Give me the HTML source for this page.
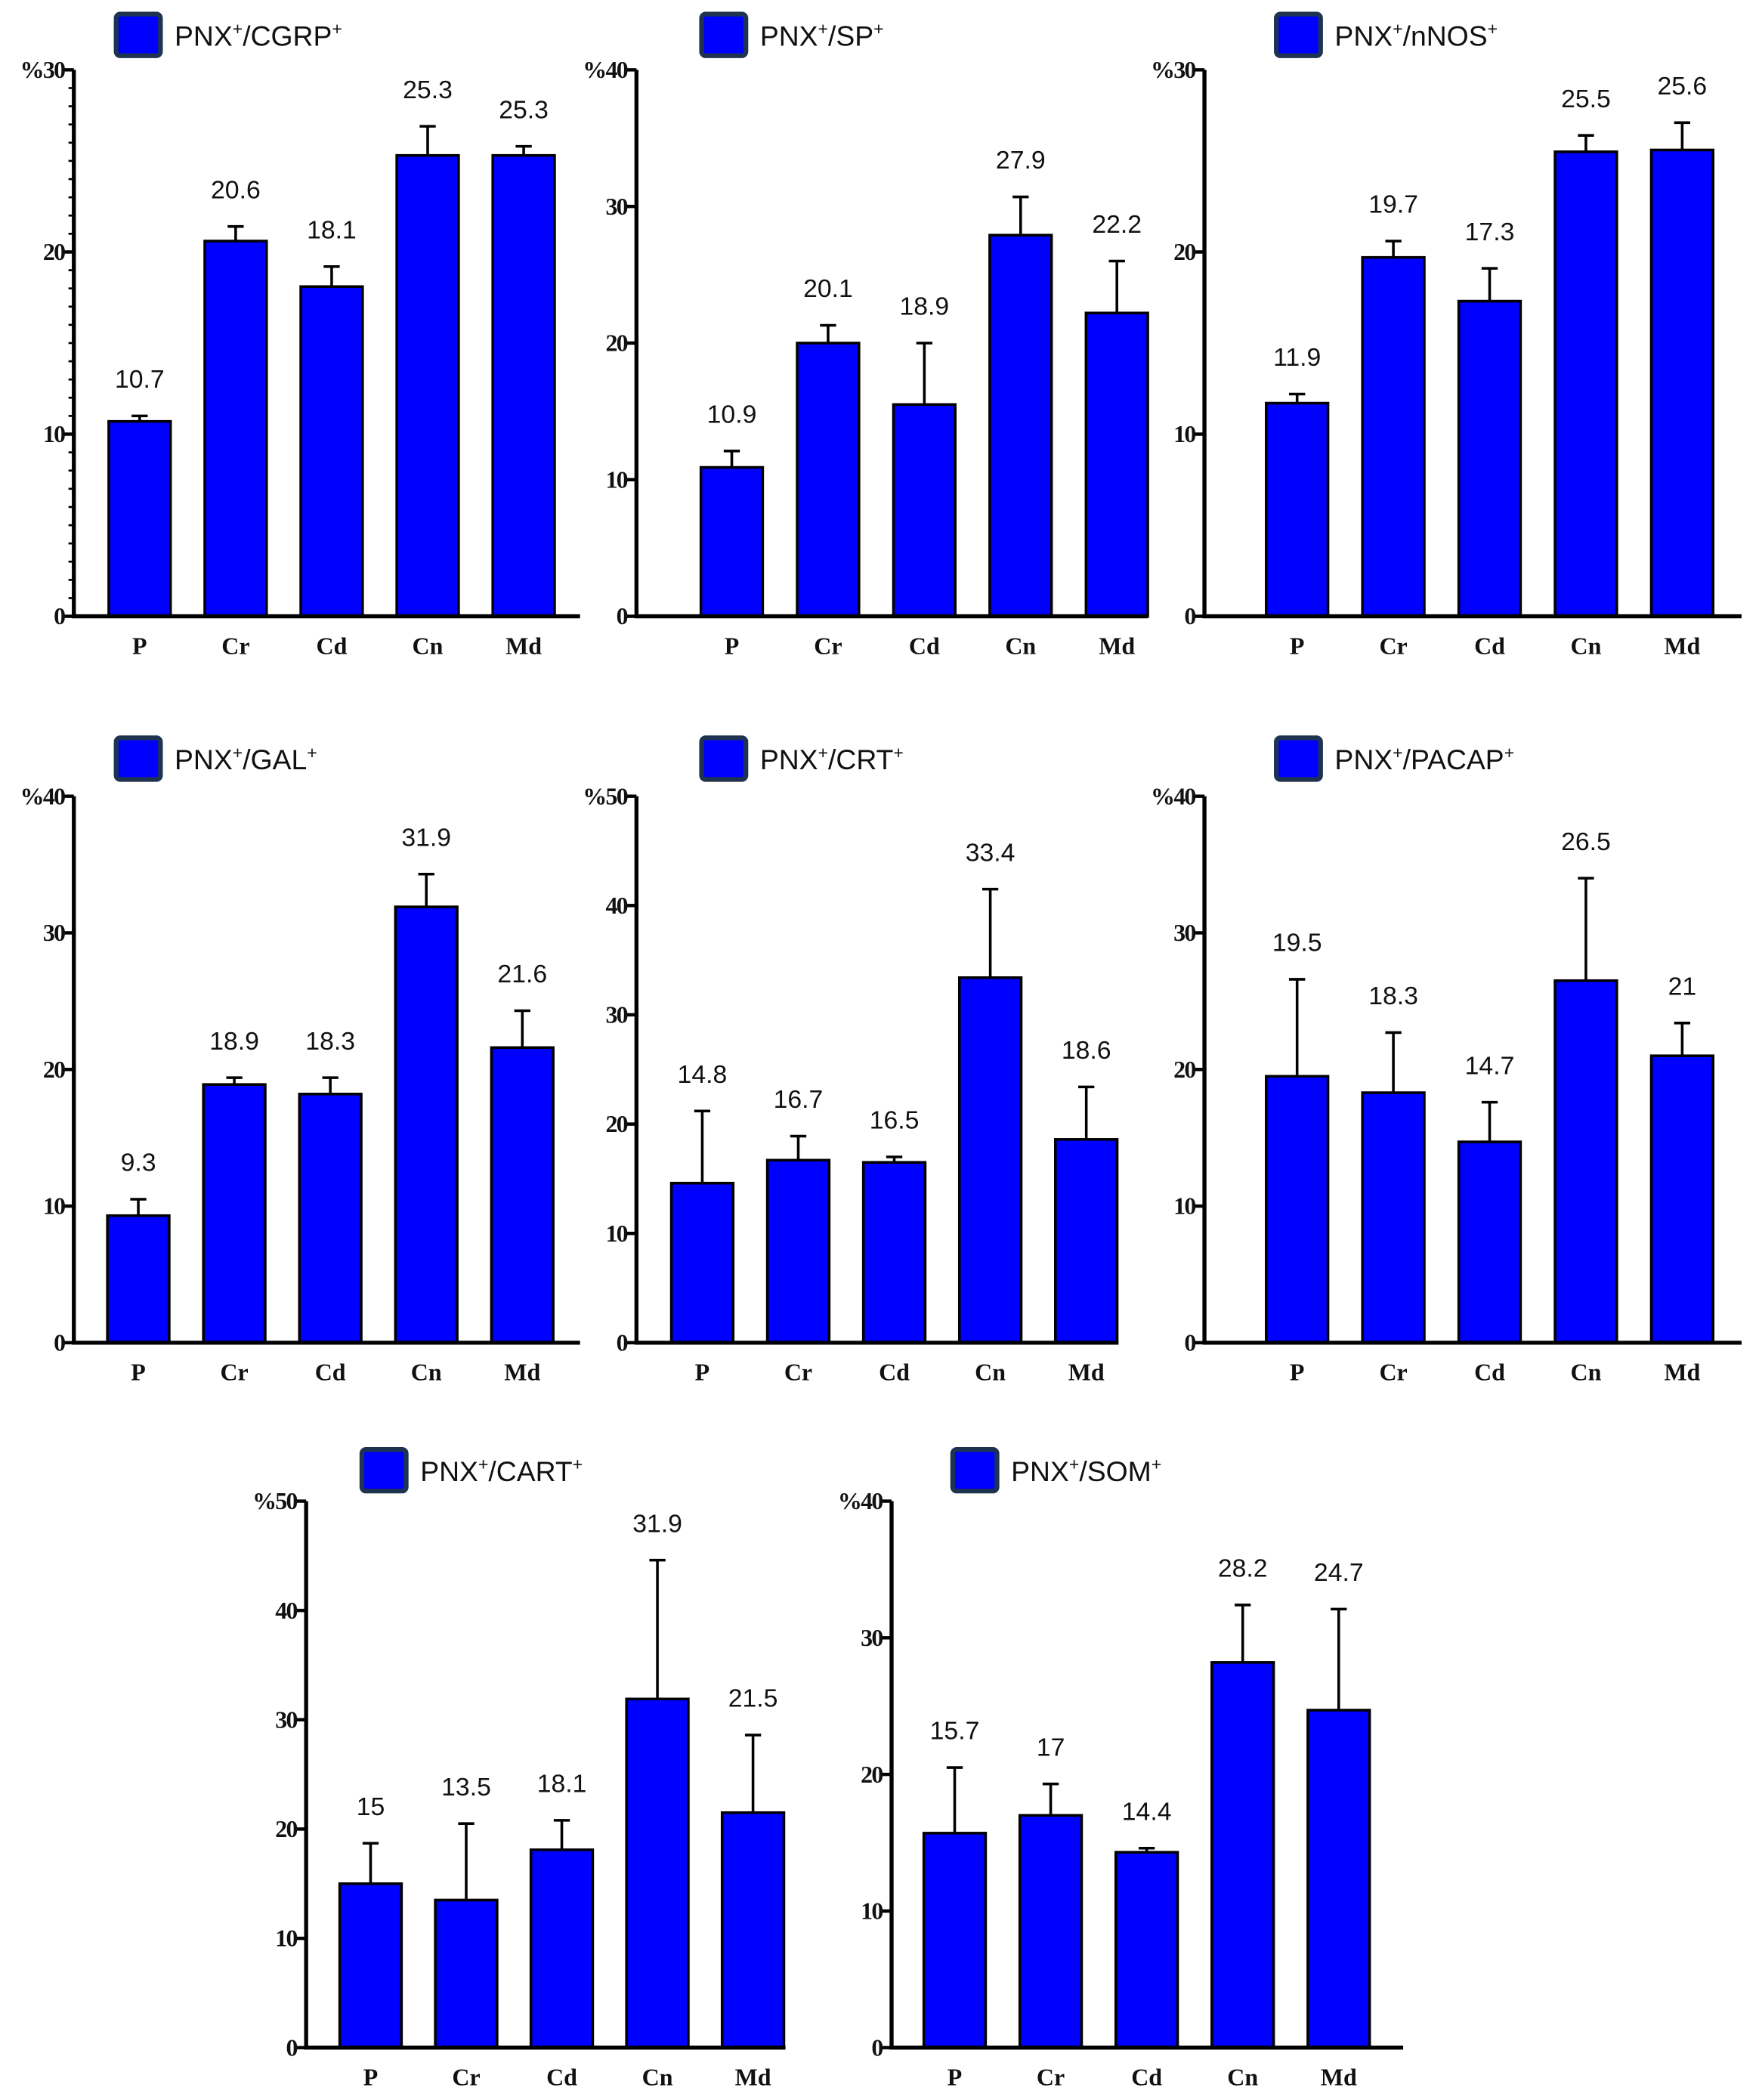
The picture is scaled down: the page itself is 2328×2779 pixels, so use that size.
<!DOCTYPE html>
<html><head><meta charset="utf-8"><style>
html,body{margin:0;padding:0;background:#fff;}
svg{display:block;}
.tk{font-family:"Liberation Serif",serif;font-weight:bold;font-size:18px;letter-spacing:-1px;}
.xl{font-family:"Liberation Serif",serif;font-weight:bold;font-size:18px;}
.vl{font-family:"Liberation Sans",sans-serif;font-size:19px;}
.lg{font-family:"Liberation Sans",sans-serif;font-size:21px;}
</style></head><body>
<svg id="fig" width="2328" height="2779" viewBox="0 0 1310 1564" preserveAspectRatio="none" xmlns="http://www.w3.org/2000/svg"></svg>
<script>
const categories = ["P","Cr","Cd","Cn","Md"];
const titles = ["CGRP","SP","nNOS","GAL","CRT","PACAP","CART","SOM"];
const yMaxes = [30,40,30,40,50,40,50,40];
const barValues = [
 [10.7,20.6,18.1,25.3,25.3],
 [10.9,20.0,15.5,27.9,22.2],
 [11.7,19.7,17.3,25.5,25.6],
 [9.3,18.9,18.2,31.9,21.6],
 [14.6,16.7,16.5,33.4,18.6],
 [19.5,18.3,14.7,26.5,21.0],
 [15.0,13.5,18.1,31.9,21.5],
 [15.7,17.0,14.3,28.2,24.7]
];
const errorTops = [
 [11.0,21.4,19.2,26.9,25.8],
 [12.1,21.3,20.0,30.7,26.0],
 [12.2,20.6,19.1,26.4,27.1],
 [10.5,19.4,19.4,34.3,24.3],
 [21.2,18.9,17.0,41.5,23.4],
 [26.6,22.7,17.6,34.0,23.4],
 [18.7,20.5,20.8,44.6,28.6],
 [20.5,19.3,14.6,32.4,32.1]
];
const valueLabels = [
 ["10.7","20.6","18.1","25.3","25.3"],
 ["10.9","20.1","18.9","27.9","22.2"],
 ["11.9","19.7","17.3","25.5","25.6"],
 ["9.3","18.9","18.3","31.9","21.6"],
 ["14.8","16.7","16.5","33.4","18.6"],
 ["19.5","18.3","14.7","26.5","21"],
 ["15","13.5","18.1","31.9","21.5"],
 ["15.7","17","14.4","28.2","24.7"]
];
// layout (not data)
const panels = [
 {ax:55, top:52, base:459, first:104, step:71.5, end:432, lgx:85, lgy:9, minor:true},
 {ax:474,top:52, base:459, first:545, step:71.7, end:855, lgx:521,lgy:9},
 {ax:897,top:52, base:459, first:966, step:71.7, end:1297,lgx:949,lgy:9},
 {ax:55, top:593,base:1000,first:103, step:71.5, end:432, lgx:85, lgy:548},
 {ax:474,top:593,base:1000,first:523, step:71.5, end:833, lgx:521,lgy:548},
 {ax:897,top:593,base:1000,first:966, step:71.7, end:1297,lgx:949,lgy:548},
 {ax:228,top:1118,base:1525,first:276,step:71.2, end:585, lgx:268,lgy:1078},
 {ax:664,top:1118,base:1525,first:711,step:71.5, end:1045,lgx:708,lgy:1078}
];
const NS="http://www.w3.org/2000/svg";
const svg=document.getElementById('fig');
function mk(tag,attrs,parent){const e=document.createElementNS(NS,tag);for(const k in attrs)e.setAttribute(k,attrs[k]);(parent||svg).appendChild(e);return e;}
panels.forEach((p,i)=>{
 const g=mk('g',{});
 
 
 const ymax=yMaxes[i];
 const y=v=>p.base-(v/ymax)*(p.base-p.top);
 const x=k=>p.first+k*p.step;
 const lb=mk('rect',{x:p.lgx+1.5,y:p.lgy+1.5,width:33,height:31,rx:3,fill:'#0000ff',stroke:'#1e3350','stroke-width':3.5},g);
 
 
 const lt=mk('text',{x:p.lgx+45,y:p.lgy+25,class:'lg',fill:'#111'},g);
 
 
 lt.innerHTML='PNX<tspan dy="-8" font-size="13">+</tspan><tspan dy="8">/'+titles[i]+'</tspan><tspan dy="-8" font-size="13">+</tspan>';
 categories.forEach((c,k)=>{
  const v=barValues[i][k], e=errorTops[i][k], cx=x(k);
  const er=mk('path',{d:`M${cx},${y(v)}V${y(e)}M${cx-6},${y(e)}H${cx+6}`,stroke:'#000','stroke-width':2,fill:'none'},g);
  
  
  const r=mk('rect',{x:cx-23,y:y(v),width:46,height:p.base-y(v),fill:'#0000ff',stroke:'#000','stroke-width':2},g);
  
  
  const t=mk('text',{x:cx,y:y(e)-21,'text-anchor':'middle',class:'vl',fill:'#111'},g);
  
  
  t.textContent=valueLabels[i][k];
  const xl=mk('text',{x:cx,y:p.base+28,'text-anchor':'middle',class:'xl',fill:'#111'},g);
  
  
  xl.textContent=c;
 });
 const ax=mk('path',{d:`M${p.ax},${p.top}V${p.base}H${p.end}`,stroke:'#000','stroke-width':3,fill:'none'},g);
 
 
 if(p.minor){for(let v=1;v<ymax;v++){if(v%10)mk('line',{x1:p.ax-4,x2:p.ax,y1:y(v),y2:y(v),stroke:'#000','stroke-width':1.5},g);}}
 for(let v=0;v<=ymax;v+=10){
  mk('line',{x1:p.ax-7,x2:p.ax,y1:y(v),y2:y(v),stroke:'#000','stroke-width':2.5},g);
  const t=mk('text',{x:p.ax-7,y:y(v)+6,'text-anchor':'end',class:'tk',fill:'#111'},g);
  
  
  t.textContent=(v===ymax?'%':'')+v;
 }
});
</script>
</body></html>
